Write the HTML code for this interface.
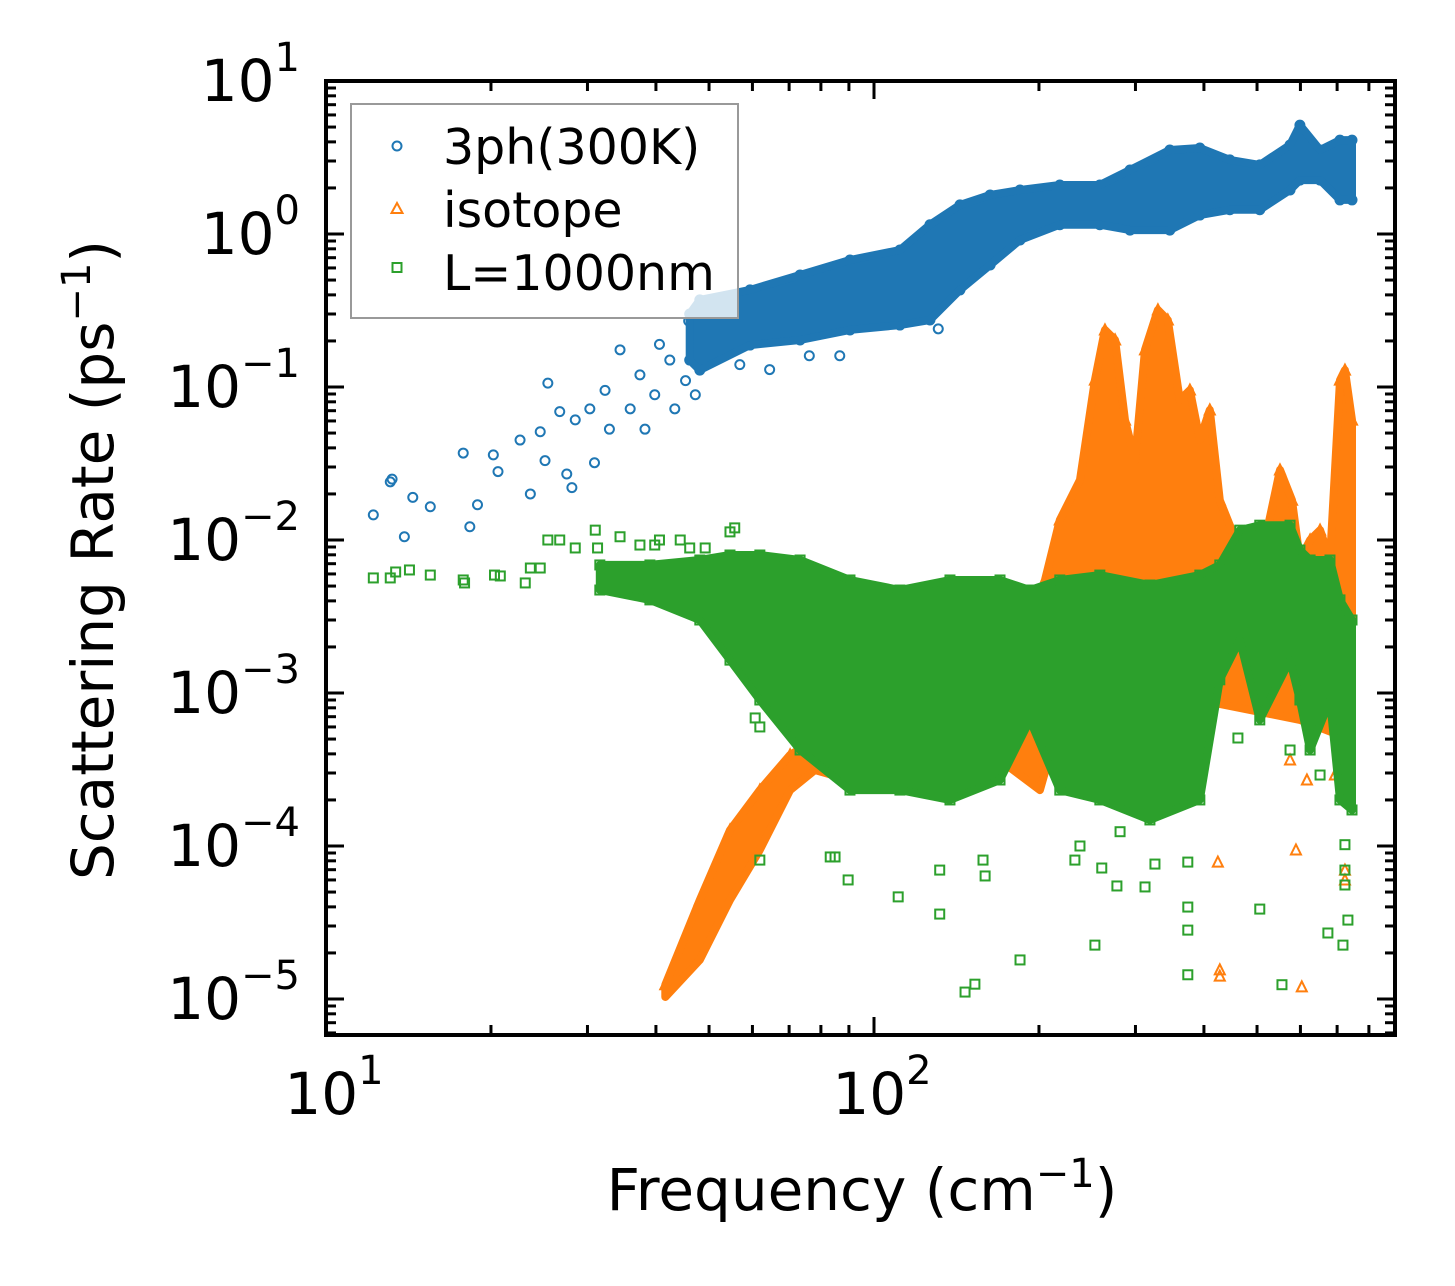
<!DOCTYPE html>
<html><head><meta charset="utf-8"><style>
html,body{margin:0;padding:0;background:#fff;}
svg{display:block;font-family:"DejaVu Sans","Liberation Sans",sans-serif;}
</style></head><body>
<svg id="chart" width="1455" height="1286" viewBox="0 0 1455 1286" xmlns="http://www.w3.org/2000/svg">
<rect width="1455" height="1286" fill="#fff"/>
<g id="marks"></g>
<g id="axes"></g>
<g>
<rect x="351" y="104" width="387" height="214" fill="#fff" fill-opacity="0.8" stroke="#999" stroke-width="2"/>
<circle cx="397" cy="146" r="4.5" fill="none" stroke="#1f77b4" stroke-width="2"/>
<text x="443" y="164" font-size="49">3ph(300K)</text>
<path d="M397,203 L402.5,213 L391.5,213 Z" fill="none" stroke="#ff7f0e" stroke-width="2"/>
<text x="443" y="227" font-size="49">isotope</text>
<rect x="392.5" y="263" width="9" height="9" fill="none" stroke="#2ca02c" stroke-width="2"/>
<text x="443" y="290" font-size="49">L=1000nm</text>
</g>
<text x="862" y="1210" font-size="58" text-anchor="middle">Frequency (cm<tspan dy="-23" font-size="40">−1</tspan><tspan dy="23">)</tspan></text>
<text transform="translate(113,560) rotate(-90)" font-size="58" text-anchor="middle">Scattering Rate (ps<tspan dy="-23" font-size="40">−1</tspan><tspan dy="23">)</tspan></text>
</svg>
<script>
// ---- data ----
const blueBandF = [46.1,48.1,59.4,73.3,90.4,111.5,126.5,143.5,162.9,184.7,218.3,258.3,293.2,346.6,393.2,446.0,505.8,574.4,598.7,651.6,708.4,745.2];
const blueBandHi = [0.30,0.371,0.431,0.540,0.676,0.786,1.15,1.55,1.80,1.94,2.09,2.09,2.62,3.54,3.65,3.05,2.83,3.82,5.15,3.54,4.11,4.11];
const blueBandLo = [0.15,0.129,0.188,0.203,0.236,0.254,0.274,0.431,0.627,0.914,1.15,1.15,1.06,1.06,1.33,1.44,1.44,1.94,2.25,2.25,1.67,1.67];
const bluePtsF = [12.2,13.2,13.1,13.9,14.4,15.5,17.8,18.3,18.9,20.2,20.6,22.6,23.6,24.6,25.1,25.4,26.7,27.5,28.1,28.5,30.3,30.9,32.3,32.9,34.4,35.9,37.4,38.2,39.8,40.6,42.4,43.3,45.3,45.9,47.2,52.2,56.9,64.5,76.2,86.6,131];
const bluePtsV = [0.0146,0.025,0.024,0.0105,0.019,0.0165,0.037,0.0122,0.017,0.036,0.028,0.045,0.020,0.051,0.033,0.106,0.069,0.027,0.022,0.061,0.072,0.032,0.095,0.053,0.175,0.072,0.12,0.053,0.089,0.19,0.15,0.072,0.11,0.27,0.089,0.37,0.14,0.13,0.16,0.16,0.24];

const orangeHiF = [41.6,48.1,54.6,61.9,70.3,78.0,83.2,90.4,102.5,111.5,126.5,143.5,159.5,177.1,192.6,205.1,218.3,237.6,253.0,263.9,275.4,287.1,299.4,312.3,329.7,343.7,361.4,377.1,393.2,410.0,427.6,449.7,475.1,517.3,550.6,579.2,598.7,624.9,651.6,679.3,708.4,723.4,745.2];
const orangeHiV = [1.24e-5,4.44e-5,1.27e-4,2.32e-4,3.94e-4,4.93e-4,2.22e-3,4.06e-3,4.38e-3,4.06e-3,3.00e-3,3.49e-3,4.06e-3,2.22e-3,3.00e-3,5.48e-3,0.0135,0.0247,0.111,0.236,0.203,0.0608,0.0333,0.175,0.319,0.274,0.0822,0.0955,0.0451,0.0708,0.0182,0.0116,4.06e-3,0.0100,0.0287,0.0182,7.40e-3,0.0100,0.0116,7.40e-3,0.111,0.129,0.0608];
const orangeLoF = [41.6,48.1,54.6,61.9,70.3,78.0,90.4,111.5,169.8,200.8,218.3,258.3,393.2,598.7,745.2];
const orangeLoV = [1.03e-5,1.80e-5,4.44e-5,9.42e-5,2.32e-4,3.14e-4,2.70e-4,3.65e-4,3.65e-4,2.32e-4,6.67e-4,9.0e-4,9.0e-4,6.67e-4,4.93e-4];
const orangePtsF = [424.1,427.6,427.6,588.8,603.5,723.4,723.4,616.6,693.5,574.4];
const orangePtsV = [7.85e-5,1.55e-5,1.41e-5,9.42e-5,1.20e-5,6.0e-5,6.96e-5,2.70e-4,2.91e-4,3.65e-4];

const greenBandF = [31.6,39.0,48.1,54.6,61.9,73.3,90.4,111.5,137.6,169.8,192.6,218.3,258.3,318.8,393.2,427.6,465.1,505.8,574.4,598.7,624.9,679.3,708.4,745.2];
const greenBandHi = [6.87e-3,6.87e-3,7.40e-3,7.98e-3,7.98e-3,7.40e-3,5.48e-3,4.71e-3,5.48e-3,5.48e-3,4.71e-3,5.48e-3,5.90e-3,5.08e-3,5.90e-3,6.87e-3,0.0116,0.0125,0.0125,8.6e-3,7.40e-3,7.40e-3,4.06e-3,3.00e-3];
const greenBandLo = [4.71e-3,4.06e-3,3.00e-3,1.64e-3,9.0e-4,4.24e-4,2.32e-4,2.32e-4,2.0e-4,2.70e-4,6.67e-4,2.32e-4,2.0e-4,1.48e-4,2.0e-4,1.22e-3,2.22e-3,6.67e-4,1.64e-3,9.0e-4,4.24e-4,9.0e-4,2.0e-4,1.72e-4];
const greenPtsF = [12.2,13.1,13.4,14.2,15.5,17.8,17.9,20.3,20.8,23.1,23.6,24.6,25.4,26.7,28.5,31.0,31.3,34.4,37.4,39.8,40.6,44.3,46.1,49.2,54.6,55.7,56.9,60.7,61.9,61.9,83.2,84.9,89.7,110.7,131.8,131.8,146.6,152.8,158.1,159.5,184.7,237.6,232.6,260.4,277.5,281.2,253.0,312.3,325.6,373.8,373.8,373.8,373.8,505.8,555.2,673.4,717.4,723.4,723.4,723.4,732.5,461.4,574.4,624.9,651.6];
const greenPtsV = [5.65e-3,5.65e-3,6.18e-3,6.37e-3,5.90e-3,5.48e-3,5.24e-3,5.90e-3,5.82e-3,5.24e-3,6.56e-3,6.56e-3,0.0100,0.0100,8.87e-3,0.0116,8.87e-3,0.0105,9.27e-3,9.27e-3,0.0100,0.0100,8.87e-3,8.87e-3,0.0113,0.0120,2.22e-3,6.87e-4,6.0e-4,8.09e-5,8.48e-5,8.48e-5,6.0e-5,4.65e-5,3.59e-5,6.96e-5,1.11e-5,1.25e-5,8.09e-5,6.37e-5,1.80e-5,1.0e-4,8.09e-5,7.18e-5,5.48e-5,1.24e-4,2.25e-5,5.40e-5,7.62e-5,7.85e-5,3.99e-5,2.82e-5,1.44e-5,3.87e-5,1.24e-5,2.70e-5,2.25e-5,5.56e-5,6.96e-5,1.02e-4,3.28e-5,5.08e-4,4.24e-4,6.67e-4,2.91e-4];

const yTickExp = [1,0,-1,-2,-3,-4,-5];
const yTickLabels = ["1","0","−1","−2","−3","−4","−5"];
const xTickExp = [1,2];
const xTickLabels = ["1","2"];

// ---- scales ----
const PL=326, PR=1395, PT=81, PB=1035;
const XMIN=1, XMAX=1+(PR-PL)/548;
const YMAX=1, YMIN=1-(PB-PT)/153;
function sx(f){return PL+(Math.log10(f)-XMIN)/(XMAX-XMIN)*(PR-PL);}
function sy(v){return PT+(YMAX-Math.log10(v))/(YMAX-YMIN)*(PB-PT);}
const NS="http://www.w3.org/2000/svg";
const marks=document.getElementById('marks');
const axes=document.getElementById('axes');
function mk(tag,attrs,parent){const e=document.createElementNS(NS,tag);for(const k in attrs)e.setAttribute(k,attrs[k]);parent.appendChild(e);return e;}

const clip=mk('clipPath',{id:'pc'},marks);
mk('rect',{x:PL,y:PT,width:PR-PL,height:PB-PT},clip);
const plot=mk('g',{'clip-path':'url(#pc)'},marks);

function band(F,hi,F2,lo,color,name){
  let pts=[];
  for(let i=0;i<F.length;i++)pts.push(sx(F[i]).toFixed(1)+','+sy(hi[i]).toFixed(1));
  for(let i=F2.length-1;i>=0;i--)pts.push(sx(F2[i]).toFixed(1)+','+sy(lo[i]).toFixed(1));
  const p=mk('polygon',{points:pts.join(' '),fill:color,stroke:color,'stroke-width':8,'stroke-linejoin':'round'},plot);
  
  
}
function circle(f,v,g){const c=mk('circle',{cx:sx(f),cy:sy(v),r:4.5,fill:'none',stroke:'#1f77b4','stroke-width':2},g);
  
  }
function tri(f,v,g){const x=sx(f),y=sy(v);const t=mk('path',{d:`M${x},${y-5.5} L${x+5},${y+4.5} L${x-5},${y+4.5} Z`,fill:'none',stroke:'#ff7f0e','stroke-width':2},g);
  
  }
function sq(f,v,g){const s=mk('rect',{x:sx(f)-4.5,y:sy(v)-4.5,width:9,height:9,fill:'none',stroke:'#2ca02c','stroke-width':2},g);
  
  }

const gb=mk('g',{},plot);


band(blueBandF,blueBandHi,blueBandF,blueBandLo,'#1f77b4','band-3ph');
for(let i=0;i<bluePtsF.length;i++)circle(bluePtsF[i],bluePtsV[i],gb);
for(let i=0;i<blueBandF.length;i++){circle(blueBandF[i],blueBandHi[i],gb);circle(blueBandF[i],blueBandLo[i],gb);}
const go=mk('g',{},plot);


band(orangeHiF,orangeHiV,orangeLoF,orangeLoV,'#ff7f0e','band-isotope');
for(let i=0;i<orangePtsF.length;i++)tri(orangePtsF[i],orangePtsV[i],go);
for(let i=0;i<orangeHiF.length;i++)tri(orangeHiF[i],orangeHiV[i],go);
const gg=mk('g',{},plot);


band(greenBandF,greenBandHi,greenBandF,greenBandLo,'#2ca02c','band-boundary');
for(let i=0;i<greenPtsF.length;i++)sq(greenPtsF[i],greenPtsV[i],gg);
for(let i=0;i<greenBandF.length;i++){sq(greenBandF[i],greenBandHi[i],gg);sq(greenBandF[i],greenBandLo[i],gg);}

const frame=mk('rect',{x:PL,y:PT,width:PR-PL,height:PB-PT,fill:'none',stroke:'#000','stroke-width':4},axes);


for(let e=Math.floor(YMIN);e<=YMAX;e++){
  for(let m=1;m<10;m++){
    const v=m*Math.pow(10,e);const lv=Math.log10(v);
    if(lv<YMIN||lv>YMAX)continue;
    const y=sy(v);const L=m===1?18:10;
    mk('line',{x1:PL,x2:PL+L,y1:y,y2:y,stroke:'#000','stroke-width':3},axes);
    mk('line',{x1:PR,x2:PR-L,y1:y,y2:y,stroke:'#000','stroke-width':3},axes);
  }
}
for(let i=0;i<yTickExp.length;i++){
  const y=sy(Math.pow(10,yTickExp[i]));
  const t=mk('text',{x:300,y:y+20,'font-size':58,'text-anchor':'end'},axes);
  
  
  t.innerHTML='10<tspan dy="-30" font-size="40">'+yTickLabels[i]+'</tspan>';
}
for(let e=1;e<=2;e++){
  for(let m=1;m<10;m++){
    const f=m*Math.pow(10,e);if(Math.log10(f)>XMAX)continue;
    const x=sx(f);const L=m===1?18:10;
    mk('line',{x1:x,x2:x,y1:PB,y2:PB-L,stroke:'#000','stroke-width':3},axes);
    mk('line',{x1:x,x2:x,y1:PT,y2:PT+L,stroke:'#000','stroke-width':3},axes);
  }
}
for(let i=0;i<xTickExp.length;i++){
  const x=sx(Math.pow(10,xTickExp[i]));
  const t=mk('text',{x:x+8,y:1114,'font-size':58,'text-anchor':'middle'},axes);
  
  
  t.innerHTML='10<tspan dy="-30" font-size="40">'+xTickLabels[i]+'</tspan>';
}
</script>
</body></html>
